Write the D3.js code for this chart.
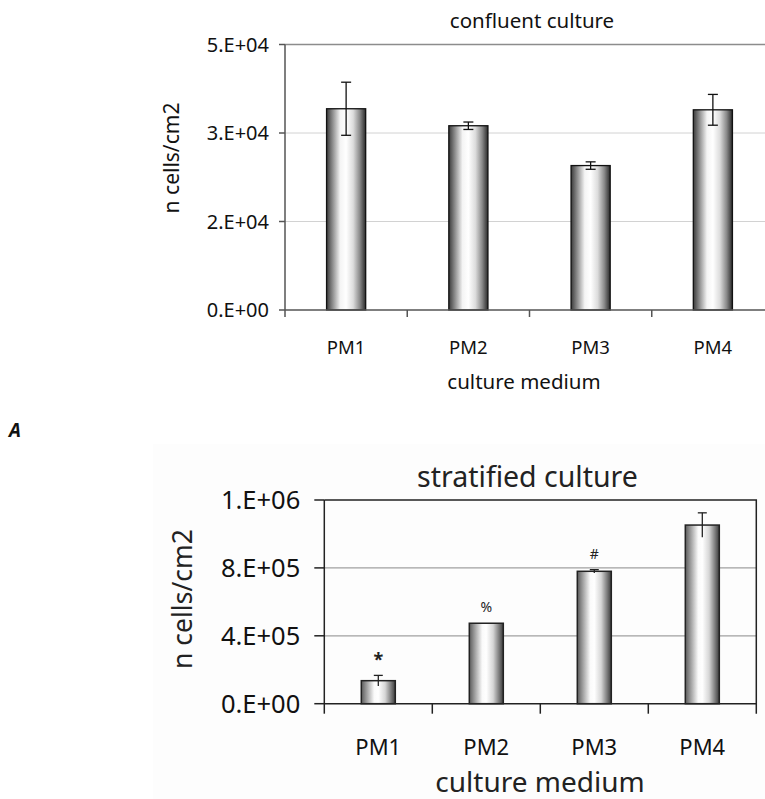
<!DOCTYPE html>
<html>
<head>
<meta charset="utf-8">
<script src="https://cdn.jsdelivr.net/npm/d3@7"></script>
<style>
  body { margin: 0; background: #fff; }
  svg { display: block; font-family: "Noto Sans", "DejaVu Sans", sans-serif; }
</style>
</head>
<body>
<div id="chart"></div>
<script>
// DATA
const categories = ["PM1", "PM2", "PM3", "PM4"];

const confluentMean = [37900, 34700, 27200, 37700];
const confluentErr = [5000, 700, 700, 2900];
const confluentTicks = [0, 16667, 33333, 50000];
const confluentTickLabels = ["0.E+00", "2.E+04", "3.E+04", "5.E+04"];

const stratifiedMean = [113000, 395000, 650000, 877000];
const stratifiedErr = [26000, 0, 8000, 60000];
const stratifiedMarks = ["*", "%", "#", ""];
const stratifiedTicks = [0, 333333, 666667, 1000000];
const stratifiedTickLabels = ["0.E+00", "4.E+05", "8.E+05", "1.E+06"];

const svg = d3
  .select("#chart")
  .append("svg")
  .attr("width", 765)
  .attr("height", 799);

// shiny cylinder-ish fill for the bars
const defs = svg.append("defs");
function addGradient(id, stops) {
  defs
    .append("linearGradient")
    .attr("id", id)
    .attr("x1", 0)
    .attr("x2", 1)
    .attr("y1", 0)
    .attr("y2", 0)
    .selectAll("stop")
    .data(stops)
    .enter()
    .append("stop")
    .attr("offset", d => d[0])
    .attr("stop-color", d => d[1]);
}
addGradient("barTop", [
  [0, "#3a3a3a"], [0.12, "#7a7a7a"], [0.35, "#f4f4f4"], [0.5, "#ffffff"],
  [0.68, "#dcdcdc"], [0.85, "#8a8a8a"], [1, "#2a2a2a"]
]);
addGradient("barBottom", [
  [0, "#5a5a5a"], [0.15, "#9a9a9a"], [0.38, "#fafafa"], [0.5, "#ffffff"],
  [0.7, "#d6d6d6"], [0.88, "#7a7a7a"], [1, "#3a3a3a"]
]);

// ---------------- TOP CHART: confluent culture ----------------
const m1 = { left: 285, right: 774, top: 44.5, bottom: 310 };

const x1 = d3.scaleBand().domain(categories).range([m1.left, m1.right]);
const y1 = d3.scaleLinear().domain([0, 50000]).range([m1.bottom, m1.top]);

const g1 = svg.append("g").attr("class", "confluent");

// gridlines
g1.selectAll(".grid")
  .data(confluentTicks.slice(1, -1))
  .enter()
  .append("line")
  .attr("x1", m1.left)
  .attr("x2", m1.right)
  .attr("y1", d => y1(d))
  .attr("y2", d => y1(d))
  .attr("stroke", "#d2d2d2")
  .attr("stroke-width", 1);

// top border
g1.append("line")
  .attr("x1", m1.left)
  .attr("x2", m1.right)
  .attr("y1", y1(50000))
  .attr("y2", y1(50000))
  .attr("stroke", "#8c8c8c")
  .attr("stroke-width", 1.5);

// bars
const bw1 = x1.bandwidth() * 0.32;
g1.selectAll(".bar")
  .data(categories)
  .enter()
  .append("rect")
  .attr("x", d => x1(d) + (x1.bandwidth() - bw1) / 2)
  .attr("y", (d, i) => y1(confluentMean[i]))
  .attr("width", bw1)
  .attr("height", (d, i) => y1(0) - y1(confluentMean[i]))
  .attr("fill", "url(#barTop)")
  .attr("stroke", "#111")
  .attr("stroke-width", 1.3);

// error bars (both caps)
const eb1 = g1.selectAll(".err").data(categories).enter().append("g");
eb1.append("line")
  .attr("x1", d => x1(d) + x1.bandwidth() / 2)
  .attr("x2", d => x1(d) + x1.bandwidth() / 2)
  .attr("y1", (d, i) => y1(confluentMean[i] + confluentErr[i]))
  .attr("y2", (d, i) => y1(confluentMean[i] - confluentErr[i]))
  .attr("stroke", "#111")
  .attr("stroke-width", 1.3);
[1, -1].forEach(s => {
  eb1.append("line")
    .attr("x1", d => x1(d) + x1.bandwidth() / 2 - 5)
    .attr("x2", d => x1(d) + x1.bandwidth() / 2 + 5)
    .attr("y1", (d, i) => y1(confluentMean[i] + s * confluentErr[i]))
    .attr("y2", (d, i) => y1(confluentMean[i] + s * confluentErr[i]))
    .attr("stroke", "#111")
    .attr("stroke-width", 1.3);
});

// y axis
const yAxis1 = g1.append("g");
yAxis1.append("line")
  .attr("x1", m1.left)
  .attr("x2", m1.left)
  .attr("y1", m1.top)
  .attr("y2", m1.bottom + 7)
  .attr("stroke", "#555")
  .attr("stroke-width", 1.5);
yAxis1.selectAll(".tick")
  .data(confluentTicks)
  .enter()
  .append("line")
  .attr("x1", m1.left - 6)
  .attr("x2", m1.left)
  .attr("y1", d => y1(d))
  .attr("y2", d => y1(d))
  .attr("stroke", "#555")
  .attr("stroke-width", 1.5);
yAxis1.selectAll(".lbl")
  .data(confluentTicks)
  .enter()
  .append("text")
  .attr("x", m1.left - 16)
  .attr("y", d => y1(d))
  .attr("dy", "0.36em")
  .attr("text-anchor", "end")
  .attr("font-size", 20)
  .attr("fill", "#111")
  .text((d, i) => confluentTickLabels[i]);

// x axis
const xAxis1 = g1.append("g");
xAxis1.append("line")
  .attr("x1", m1.left)
  .attr("x2", m1.right)
  .attr("y1", m1.bottom)
  .attr("y2", m1.bottom)
  .attr("stroke", "#555")
  .attr("stroke-width", 1.5);
xAxis1.selectAll(".tick")
  .data(categories.slice(1))
  .enter()
  .append("line")
  .attr("x1", d => x1(d))
  .attr("x2", d => x1(d))
  .attr("y1", m1.bottom)
  .attr("y2", m1.bottom + 7)
  .attr("stroke", "#555")
  .attr("stroke-width", 1.5);
xAxis1.selectAll(".lbl")
  .data(categories)
  .enter()
  .append("text")
  .attr("x", d => x1(d) + x1.bandwidth() / 2)
  .attr("y", 354)
  .attr("text-anchor", "middle")
  .attr("font-size", 18.5)
  .attr("fill", "#111")
  .text(d => d);

g1.append("text")
  .attr("x", 532)
  .attr("y", 28)
  .attr("text-anchor", "middle")
  .attr("font-size", 20.5)
  .attr("fill", "#111")
  .text("confluent culture");

g1.append("text")
  .attr("x", 524)
  .attr("y", 389)
  .attr("text-anchor", "middle")
  .attr("font-size", 20.5)
  .attr("fill", "#111")
  .text("culture medium");

g1.append("text")
  .attr("transform", "translate(179,158) rotate(-90)")
  .attr("text-anchor", "middle")
  .attr("font-size", 21)
  .attr("fill", "#111")
  .text("n cells/cm2");

// panel letter
svg.append("text")
  .attr("x", 9)
  .attr("y", 437)
  .attr("font-size", 19)
  .attr("font-weight", "bold")
  .attr("font-style", "italic")
  .attr("fill", "#111")
  .text("A");

// ---------------- BOTTOM CHART: stratified culture ----------------
const m2 = { left: 324.3, right: 756.3, top: 500, bottom: 703.7 };

svg.append("rect")
  .attr("x", 153)
  .attr("y", 444)
  .attr("width", 612)
  .attr("height", 355)
  .attr("fill", "#fdfdfd");

const x2 = d3.scaleBand().domain(categories).range([m2.left, m2.right]);
const y2 = d3.scaleLinear().domain([0, 1000000]).range([m2.bottom, m2.top]);

const g2 = svg.append("g").attr("class", "stratified");

g2.selectAll(".grid")
  .data(stratifiedTicks.slice(1, -1))
  .enter()
  .append("line")
  .attr("x1", m2.left)
  .attr("x2", m2.right)
  .attr("y1", d => y2(d))
  .attr("y2", d => y2(d))
  .attr("stroke", "#a0a0a0")
  .attr("stroke-width", 1.2);

// frame top + right
g2.append("path")
  .attr("d", `M${m2.left},${y2(1000000)}H${m2.right}V${m2.bottom + 10}`)
  .attr("fill", "none")
  .attr("stroke", "#222")
  .attr("stroke-width", 1.5);

const bw2 = x2.bandwidth() * 0.315;
g2.selectAll(".bar")
  .data(categories)
  .enter()
  .append("rect")
  .attr("x", d => x2(d) + (x2.bandwidth() - bw2) / 2)
  .attr("y", (d, i) => y2(stratifiedMean[i]))
  .attr("width", bw2)
  .attr("height", (d, i) => y2(0) - y2(stratifiedMean[i]))
  .attr("fill", "url(#barBottom)")
  .attr("stroke", "#222")
  .attr("stroke-width", 1.5);

// error bars, cap only on top
const idx = d => categories.indexOf(d);
const eb2 = g2.selectAll(".err")
  .data(categories.filter((d, i) => stratifiedErr[i] > 0))
  .enter()
  .append("g");
eb2.append("line")
  .attr("x1", d => x2(d) + x2.bandwidth() / 2)
  .attr("x2", d => x2(d) + x2.bandwidth() / 2)
  .attr("y1", d => y2(stratifiedMean[idx(d)] + stratifiedErr[idx(d)]))
  .attr("y2", d => y2(stratifiedMean[idx(d)] - stratifiedErr[idx(d)]))
  .attr("stroke", "#222")
  .attr("stroke-width", 1.3);
eb2.append("line")
  .attr("x1", d => x2(d) + x2.bandwidth() / 2 - 4.5)
  .attr("x2", d => x2(d) + x2.bandwidth() / 2 + 4.5)
  .attr("y1", d => y2(stratifiedMean[idx(d)] + stratifiedErr[idx(d)]))
  .attr("y2", d => y2(stratifiedMean[idx(d)] + stratifiedErr[idx(d)]))
  .attr("stroke", "#222")
  .attr("stroke-width", 1.3);

// significance marks
g2.selectAll(".mark")
  .data(categories)
  .enter()
  .append("text")
  .attr("x", d => x2(d) + x2.bandwidth() / 2)
  .attr("y", (d, i) => y2(stratifiedMean[i] + stratifiedErr[i]) - 16)
  .attr("dy", "0.36em")
  .attr("text-anchor", "middle")
  .attr("font-size", (d, i) => (stratifiedMarks[i] === "*" ? 18 : 14))
  .attr("font-weight", (d, i) => (stratifiedMarks[i] === "*" ? "bold" : "normal"))
  .attr("fill", "#222")
  .text((d, i) => stratifiedMarks[i]);

// y axis
g2.append("line")
  .attr("x1", m2.left)
  .attr("x2", m2.left)
  .attr("y1", m2.top)
  .attr("y2", m2.bottom + 10)
  .attr("stroke", "#222")
  .attr("stroke-width", 1.5);
g2.selectAll(".ytick")
  .data(stratifiedTicks)
  .enter()
  .append("line")
  .attr("x1", m2.left - 10)
  .attr("x2", m2.left)
  .attr("y1", d => y2(d))
  .attr("y2", d => y2(d))
  .attr("stroke", "#222")
  .attr("stroke-width", 1.5);
g2.selectAll(".ylbl")
  .data(stratifiedTicks)
  .enter()
  .append("text")
  .attr("x", m2.left - 24)
  .attr("y", d => y2(d))
  .attr("dy", "0.36em")
  .attr("text-anchor", "end")
  .attr("font-size", 25.5)
  .attr("fill", "#111")
  .text((d, i) => stratifiedTickLabels[i]);

// x axis
g2.append("line")
  .attr("x1", m2.left)
  .attr("x2", m2.right)
  .attr("y1", m2.bottom)
  .attr("y2", m2.bottom)
  .attr("stroke", "#222")
  .attr("stroke-width", 1.5);
g2.selectAll(".xtick")
  .data(categories.slice(1))
  .enter()
  .append("line")
  .attr("x1", d => x2(d))
  .attr("x2", d => x2(d))
  .attr("y1", m2.bottom)
  .attr("y2", m2.bottom + 10)
  .attr("stroke", "#222")
  .attr("stroke-width", 1.5);
g2.selectAll(".xlbl")
  .data(categories)
  .enter()
  .append("text")
  .attr("x", d => x2(d) + x2.bandwidth() / 2)
  .attr("y", 755)
  .attr("text-anchor", "middle")
  .attr("font-size", 22)
  .attr("fill", "#111")
  .text(d => d);

g2.append("text")
  .attr("x", 527.5)
  .attr("y", 486.7)
  .attr("text-anchor", "middle")
  .attr("font-size", 28.5)
  .attr("fill", "#222")
  .text("stratified culture");

g2.append("text")
  .attr("x", 540)
  .attr("y", 792)
  .attr("text-anchor", "middle")
  .attr("font-size", 28)
  .attr("fill", "#222")
  .text("culture medium");

g2.append("text")
  .attr("transform", "translate(192,599) rotate(-90)")
  .attr("text-anchor", "middle")
  .attr("font-size", 26.5)
  .attr("fill", "#222")
  .text("n cells/cm2");
</script>
</body>
</html>
